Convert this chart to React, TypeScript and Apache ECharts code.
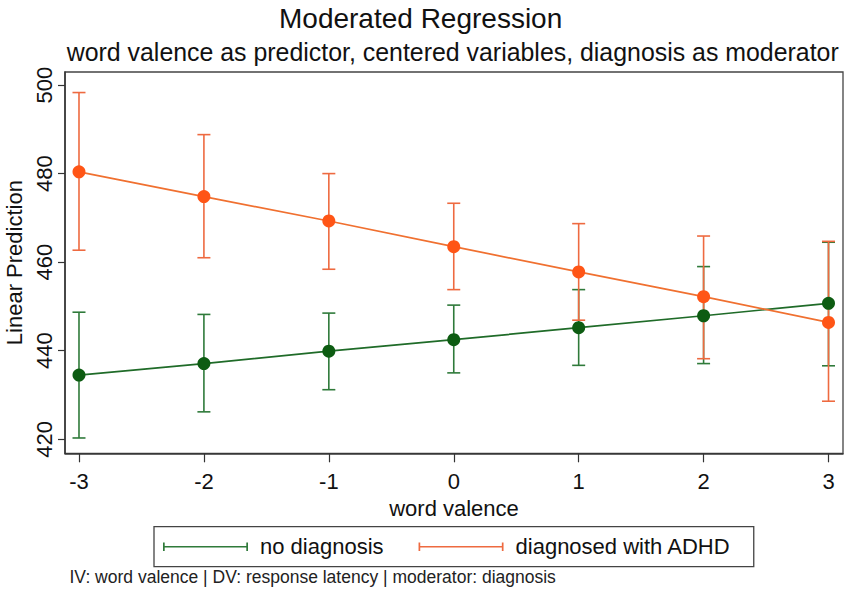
import React, { useEffect, useRef } from "react";
import * as echarts from "echarts";

const valence = [-3, -2, -1, 0, 1, 2, 3];
const noDiag = [434.5, 437.1, 439.9, 442.5, 445.2, 447.9, 450.7];
const noDiagLo = [420.3, 426.2, 431.2, 435.0, 436.7, 437.1, 436.6];
const noDiagHi = [448.7, 448.2, 448.5, 450.3, 453.8, 459.0, 464.5];
const adhd = [480.4, 474.8, 469.3, 463.5, 457.8, 452.2, 446.4];
const adhdLo = [462.7, 461.0, 458.4, 453.8, 446.9, 438.2, 428.6];
const adhdHi = [498.3, 488.8, 480.0, 473.3, 468.7, 465.9, 464.7];
const yTicks = [420, 440, 460, 480, 500];
const xTicks = [-3, -2, -1, 0, 1, 2, 3];

const seriesNames = ["no diagnosis", "diagnosed with ADHD"];
const titleText = "Moderated Regression";
const subtitleText = "word valence as predictor, centered variables, diagnosis as moderator";
const noteText = "IV: word valence | DV: response latency | moderator: diagnosis";

const FONT = "'Liberation Sans', Arial, sans-serif";
const GREEN_MARK = "#0d5c12";
const GREEN_LINE = "#1f6b28";
const GREEN_BAR = "#2f7a3a";
const ORANGE_MARK = "#ff5516";
const ORANGE_LINE = "#f07030";
const ORANGE_BAR = "#ee6a40";

const capIcon = "path://M0,0H2V10H0Z M0,4.1H100V5.9H0Z M98,0H100V10H98Z";

function errorSeries(name: string, lo: number[], hi: number[], color: string) {
  return {
    type: "custom",
    name,
    data: valence.map((v, i) => [v, lo[i], hi[i]]),
    encode: { x: 0, y: [1, 2] },
    z: 2,
    renderItem: (params: any, api: any) => {
      const x = api.value(0);
      const pLo = api.coord([x, api.value(1)]);
      const pHi = api.coord([x, api.value(2)]);
      const hw = 6.5;
      const style = { stroke: color, lineWidth: 1.6 };
      return {
        type: "group",
        children: [
          { type: "line", shape: { x1: pLo[0], y1: pLo[1], x2: pHi[0], y2: pHi[1] }, style },
          { type: "line", shape: { x1: pLo[0] - hw, y1: pLo[1], x2: pLo[0] + hw, y2: pLo[1] }, style },
          { type: "line", shape: { x1: pHi[0] - hw, y1: pHi[1], x2: pHi[0] + hw, y2: pHi[1] }, style },
        ],
      };
    },
  };
}

function lineSeries(name: string, vals: number[], mark: string, line: string) {
  return {
    type: "line",
    name,
    data: valence.map((v, i) => [v, vals[i]]),
    symbol: "circle",
    symbolSize: 13,
    z: 3,
    itemStyle: { color: mark, borderWidth: 0 },
    lineStyle: { color: line, width: 1.7 },
  };
}

export default function App() {
  const ref = useRef<HTMLDivElement>(null);
  useEffect(() => {
    if (!ref.current) return;
    const chart = echarts.init(ref.current, undefined, { renderer: "svg" });
    const axisCommon = {
      type: "value",
      nameLocation: "middle",
      nameTextStyle: { fontSize: 22, color: "#111", fontFamily: FONT },
      axisLine: { show: true, onZero: false, lineStyle: { color: "#333", width: 1.5 } },
      splitLine: { show: false },
    };
    chart.setOption({
      animation: false,
      backgroundColor: "#ffffff",
      title: [
        {
          text: titleText,
          left: 279,
          top: 4,
          padding: 0,
          textStyle: { fontSize: 28, fontWeight: "normal", color: "#111", fontFamily: FONT },
        },
        {
          text: subtitleText,
          left: 66.7,
          top: 39,
          padding: 0,
          textStyle: { fontSize: 24.9, fontWeight: "normal", color: "#111", fontFamily: FONT },
        },
      ],
      grid: {
        left: 65,
        top: 72,
        width: 778,
        height: 381.3,
        show: true,
        borderColor: "#444",
        borderWidth: 1.3,
        backgroundColor: "#fff",
        containLabel: false,
        outerBoundsMode: "none",
      },
      xAxis: {
        ...axisCommon,
        min: -3.112,
        max: 3.116,
        name: "word valence",
        nameGap: 41,
        axisTick: { show: true, length: 9, customValues: xTicks, lineStyle: { color: "#333", width: 1.2 } },
        axisLabel: { customValues: xTicks, margin: 17, fontSize: 22, color: "#111", fontFamily: FONT },
      },
      yAxis: {
        ...axisCommon,
        min: 416.84,
        max: 502.94,
        name: "Linear Prediction",
        nameGap: 31,
        axisTick: { show: true, length: 7, customValues: yTicks, lineStyle: { color: "#333", width: 1.2 } },
        axisLabel: { customValues: yTicks, rotate: 90, margin: 10, fontSize: 22, color: "#111", fontFamily: FONT },
      },
      legend: {
        left: 154,
        top: 526.7,
        orient: "horizontal",
        padding: [9, 23, 9, 9],
        itemGap: 35,
        itemWidth: 85,
        itemHeight: 9,
        borderColor: "#444",
        borderWidth: 1.3,
        borderRadius: 0,
        backgroundColor: "#fff",
        selectedMode: false,
        textStyle: { fontSize: 22, color: "#111", fontFamily: FONT, padding: [0, 0, 0, 7] },
        data: [
          { name: seriesNames[0], icon: capIcon, itemStyle: { color: GREEN_BAR, borderWidth: 0 } },
          { name: seriesNames[1], icon: capIcon, itemStyle: { color: ORANGE_BAR, borderWidth: 0 } },
        ],
      },
      graphic: [
        {
          type: "text",
          left: 69.5,
          top: 568,
          style: { text: noteText, font: `17.5px ${FONT}`, fill: "#222" },
        },
      ],
      series: [
        errorSeries(seriesNames[0], noDiagLo, noDiagHi, GREEN_BAR),
        errorSeries(seriesNames[1], adhdLo, adhdHi, ORANGE_BAR),
        lineSeries(seriesNames[0], noDiag, GREEN_MARK, GREEN_LINE),
        lineSeries(seriesNames[1], adhd, ORANGE_MARK, ORANGE_LINE),
      ],
    });
    return () => chart.dispose();
  }, []);
  return (
    <div
      ref={ref}
      style={{ position: "fixed", left: 0, top: 0, width: 851, height: 609, background: "#fff" }}
    />
  );
}
